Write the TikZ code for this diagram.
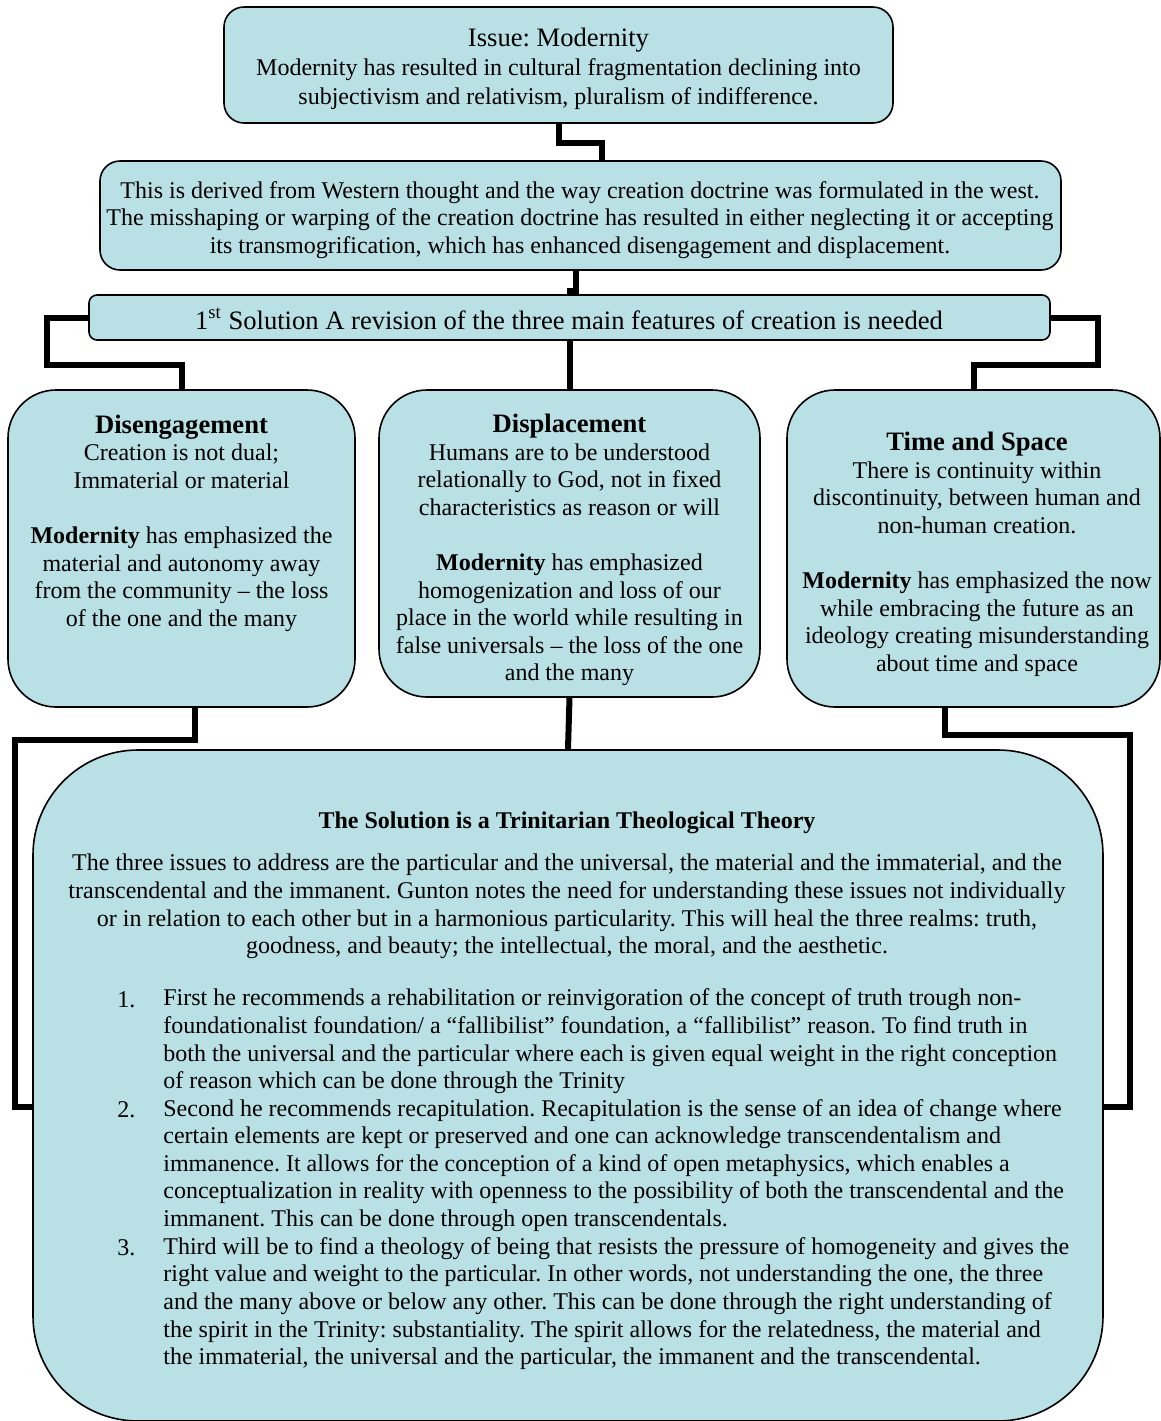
\documentclass[tikz,border=0pt]{standalone}
\usepackage{fontspec}
\setmainfont{Liberation Serif}
\frenchspacing
\definecolor{boxfill}{RGB}{185,224,228}
\tikzset{
  box/.style={draw, line width=0.8pt, fill=boxfill, rounded corners=#1, inner sep=0pt},
  box/.default=10pt,
  conn/.style={line width=3pt},
  txt/.style={align=center, inner sep=0pt, font=\fontsize{12pt}{13.8pt}\selectfont},
  ltxt/.style={align=left, inner sep=0pt, font=\fontsize{12pt}{13.8pt}\selectfont},
}
\newcommand{\hd}[1]{{\fontsize{13.3pt}{15pt}\selectfont\bfseries #1}}
\begin{document}
\begin{tikzpicture}[x=0.5pt, y=-0.5pt]
\useasboundingbox (0,0) rectangle (1161,1421);

% boxes
\node[box=10pt, minimum width=334.5pt, minimum height=58pt] (issue) at (558.5,65) {};
\node[box=10pt, minimum width=480.5pt, minimum height=54.5pt] (derive) at (580.5,215.5) {};
\node[box=4pt, minimum width=480.5pt, minimum height=22.5pt] (sol) at (569.5,317.5) {};
\node[box=24pt, minimum width=173.5pt, minimum height=158.5pt] (dis) at (181.5,548.5) {};
\node[box=24pt, minimum width=190.5pt, minimum height=153.5pt] (disp) at (569.5,543.5) {};
\node[box=24pt, minimum width=186.5pt, minimum height=158.5pt] (ts) at (973.5,548.5) {};
\node[box=52.5pt, minimum width=535pt, minimum height=335.5pt] (trin) at (568,1085.5) {};

% connectors
\coordinate (c1) at (602,143);
\draw[conn] (issue.south) |- (c1) -- (c1 |- derive.north);
\coordinate (c2) at (576,291);
\draw[conn] (c2 |- derive.south) -- (c2) -| (sol.north);
\coordinate (c3) at (47,365);
\draw[conn] (sol.west) -| (c3) -| (dis.north);
\coordinate (c4) at (1098,365);
\draw[conn] (sol.east) -| (c4) -| (ts.north);
\draw[conn] (sol.south) -- (disp.north);
\coordinate (d1) at (195,740);
\coordinate (d2) at (15,1107);
\draw[conn] (d1 |- dis.south) -- (d1) -| (d2) -- (d2 -| trin.west);
\draw[conn] (disp.south) -- (trin.north);
\coordinate (e1) at (945,735);
\coordinate (e2) at (1130,1107);
\draw[conn] (e1 |- ts.south) -- (e1) -| (e2) -- (e2 -| trin.east);

% texts
\node[txt, font=\fontsize{12pt}{14.5pt}\selectfont] (t1) at (558.5,69) {{\fontsize{13.3pt}{14.5pt}\selectfont Issue: Modernity}\\
Modernity has resulted in cultural fragmentation declining into\\
subjectivism and relativism, pluralism of indifference.};

\node[txt] (t2) at (580,220) {This is derived from Western thought and the way creation doctrine was formulated in the west.\\
The misshaping or warping of the creation doctrine has resulted in either neglecting it or accepting\\
its transmogrification, which has enhanced disengagement and displacement.};

\node[txt, font=\fontsize{13.3pt}{15pt}\selectfont] (t3) at (569,319) {1\textsuperscript{st} Solution A revision of the three main features of creation is needed};

\node[txt] (t4) at (181.5,523) {\hd{Disengagement}\\
Creation is not dual;\\
Immaterial or material\\[13.8pt]
\textbf{Modernity} has emphasized the\\
material and autonomy away\\
from the community – the loss\\
of the one and the many};

\node[txt] (t5) at (569.5,550) {\hd{Displacement}\\
Humans are to be understood\\
relationally to God, not in fixed\\
characteristics as reason or will\\[13.8pt]
\textbf{Modernity} has emphasized\\
homogenization and loss of our\\
place in the world while resulting in\\
false universals – the loss of the one\\
and the many};

\node[txt] (t6) at (977,554.5) {\hd{Time and Space}\\
There is continuity within\\
discontinuity, between human and\\
non-human creation.\\[13.8pt]
\textbf{Modernity} has emphasized the now\\
while embracing the future as an\\
ideology creating misunderstanding\\
about time and space};

\node[txt] (t7) at (567,823) {\textbf{The Solution is a Trinitarian Theological Theory}};

\node[txt] (t8) at (567,906.5) {The three issues to address are the particular and the universal, the material and the immaterial, and the\\
transcendental and the immanent. Gunton notes the need for understanding these issues not individually\\
or in relation to each other but in a harmonious particularity. This will heal the three realms: truth,\\
goodness, and beauty; the intellectual, the moral, and the aesthetic.};

\node[ltxt, anchor=west] (n1) at (117,1000) {1.};
\node[ltxt, anchor=west] (n2) at (117,1110) {2.};
\node[ltxt, anchor=west] (n3) at (117,1248) {3.};

\node[ltxt, anchor=west] (i1) at (163,1041.5) {First he recommends a rehabilitation or reinvigoration of the concept of truth trough non-\\
foundationalist foundation/ a “fallibilist” foundation, a “fallibilist” reason. To find truth in\\
both the universal and the particular where each is given equal weight in the right conception\\
of reason which can be done through the Trinity};

\node[ltxt, anchor=west] (i2) at (163,1165.5) {Second he recommends recapitulation. Recapitulation is the sense of an idea of change where\\
certain elements are kept or preserved and one can acknowledge transcendentalism and\\
immanence. It allows for the conception of a kind of open metaphysics, which enables a\\
conceptualization in reality with openness to the possibility of both the transcendental and the\\
immanent. This can be done through open transcendentals.};

\node[ltxt, anchor=west] (i3) at (163,1303.5) {Third will be to find a theology of being that resists the pressure of homogeneity and gives the\\
right value and weight to the particular. In other words, not understanding the one, the three\\
and the many above or below any other. This can be done through the right understanding of\\
the spirit in the Trinity: substantiality. The spirit allows for the relatedness, the material and\\
the immaterial, the universal and the particular, the immanent and the transcendental.};
\end{tikzpicture}
\end{document}
